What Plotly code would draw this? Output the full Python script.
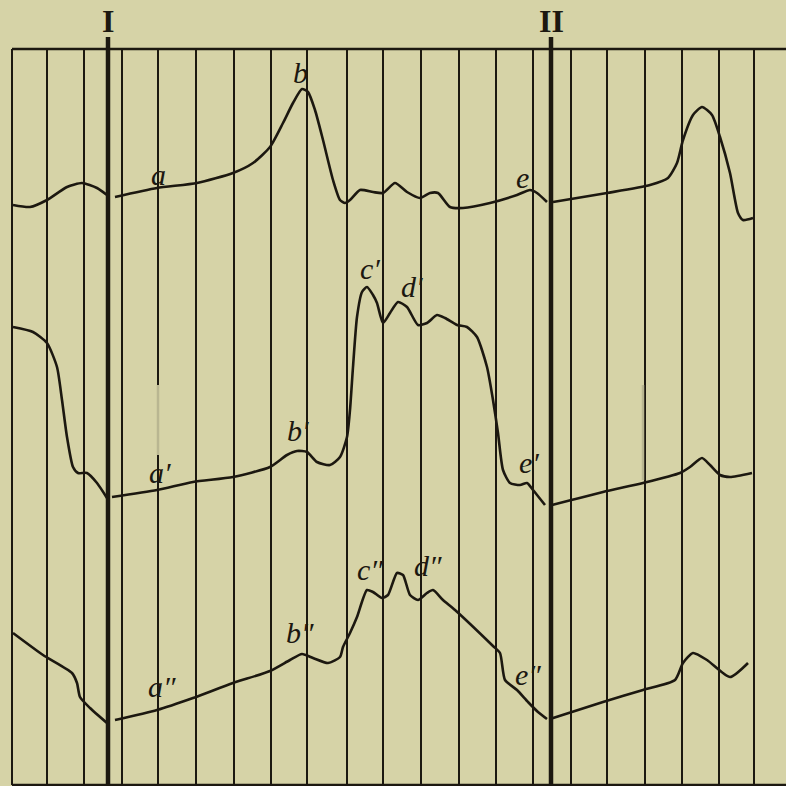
import plotly.graph_objects as go

# ---- data (pixel-like units) ----
grid_x = [12, 47, 84, 122, 158, 196, 234, 271, 307, 347, 383, 421, 459, 496, 533, 571, 607, 645, 682, 719, 754]
marker_x = [108, 551]
marker_labels = ["I", "II"]

top1_x = [13, 30, 47, 67, 82, 97, 107]
top1_y = [205, 207, 200, 187, 183, 188, 195]
top2_x = [115, 157, 197, 233, 253, 270, 283, 293, 302, 308, 315, 323, 333, 340, 345, 350, 360, 373, 383, 395, 407, 420, 430, 438, 450, 463, 490, 517, 530, 537, 547]
top2_y = [197, 188, 183, 173, 163, 147, 123, 103, 89, 92, 110, 140, 180, 200, 203, 200, 190, 192, 193, 183, 192, 198, 193, 193, 207, 208, 203, 195, 190, 193, 202]
top3_x = [553, 607, 650, 668, 677, 683, 693, 702, 712, 720, 730, 738, 743, 753]
top3_y = [202, 193, 185, 178, 163, 140, 115, 107, 115, 137, 173, 213, 220, 218]

mid1_x = [13, 33, 47, 57, 62, 67, 73, 78, 87, 97, 107]
mid1_y = [327, 332, 343, 367, 400, 437, 467, 473, 473, 483, 498]
mid2_x = [112, 157, 193, 233, 270, 287, 297, 307, 317, 330, 340, 347, 350, 353, 357, 362, 367, 373, 377, 383, 390, 398, 407, 418, 427, 437, 445, 457, 467, 477, 487, 493, 498, 503, 510, 520, 527, 533, 545]
mid2_y = [497, 490, 482, 477, 467, 455, 451, 452, 462, 465, 457, 437, 410, 367, 317, 292, 287, 295, 303, 323, 313, 302, 307, 325, 323, 315, 318, 325, 327, 337, 367, 400, 433, 470, 483, 485, 483, 490, 505]
mid3_x = [552, 603, 643, 680, 690, 702, 710, 720, 730, 752]
mid3_y = [505, 492, 483, 473, 467, 458, 465, 475, 477, 473]

bot1_x = [13, 43, 72, 77, 80, 90, 107]
bot1_y = [633, 655, 673, 683, 697, 708, 723]
bot2_x = [115, 157, 193, 233, 270, 290, 302, 313, 328, 340, 343, 350, 357, 367, 373, 382, 388, 397, 403, 410, 418, 427, 433, 443, 455, 493, 500, 505, 517, 528, 538, 547]
bot2_y = [720, 710, 698, 683, 671, 660, 654, 658, 663, 657, 647, 633, 617, 590, 592, 598, 595, 573, 575, 595, 600, 593, 590, 600, 610, 646, 653, 680, 690, 702, 712, 719]
bot3_x = [550, 603, 643, 675, 683, 693, 707, 730, 748]
bot3_y = [719, 702, 690, 680, 663, 653, 660, 677, 663]

label_text = ["a", "b", "e", "c′", "d′", "b′", "a′", "e′", "a″", "b″", "c″", "d″", "e″"]
label_x = [158, 300, 522, 370, 412, 298, 160, 529, 162, 300, 370, 428, 528]
label_y = [174, 72, 177, 268, 286, 430, 472, 462, 686, 632, 569, 565, 674]

BG = "#d6d3a7"
INK = "#1c1810"

fig = go.Figure()

segments = [(top1_x, top1_y), (top2_x, top2_y), (top3_x, top3_y),
            (mid1_x, mid1_y), (mid2_x, mid2_y), (mid3_x, mid3_y),
            (bot1_x, bot1_y), (bot2_x, bot2_y), (bot3_x, bot3_y)]
for sx, sy in segments:
    fig.add_trace(go.Scatter(x=sx, y=sy, mode="lines",
                             line=dict(color=INK, width=2.6, shape="spline", smoothing=0.6),
                             hoverinfo="skip", showlegend=False))

shapes = []
# thin vertical time lines
for gx in grid_x:
    shapes.append(dict(type="line", xref="x", yref="y", x0=gx, x1=gx, y0=49, y1=785,
                       line=dict(color=INK, width=2), layer="below"))
# frame top and bottom
shapes.append(dict(type="line", xref="x", yref="y", x0=12, x1=786, y0=49, y1=49,
                   line=dict(color=INK, width=2.5), layer="below"))
shapes.append(dict(type="line", xref="x", yref="y", x0=12, x1=786, y0=785, y1=785,
                   line=dict(color=INK, width=2.5), layer="below"))
# thick marker lines
for mx in marker_x:
    shapes.append(dict(type="line", xref="x", yref="y", x0=mx, x1=mx, y0=37, y1=786,
                       line=dict(color=INK, width=4.5), layer="below"))
# faint smudges
for fx, fy0, fy1 in [(158, 385, 455), (643, 385, 480)]:
    shapes.append(dict(type="line", xref="x", yref="y", x0=fx, x1=fx, y0=fy0, y1=fy1,
                       line=dict(color="#b9b691", width=2.5), layer="below"))

annotations = []
for t, lx, ly in zip(label_text, label_x, label_y):
    annotations.append(dict(x=lx, y=ly, xref="x", yref="y", text=t, showarrow=False,
                            font=dict(family="Liberation Serif, DejaVu Serif, serif", size=30,
                                      color=INK, style="italic")))
for t, mx in zip(marker_labels, marker_x):
    annotations.append(dict(x=mx, y=21, xref="x", yref="y", text="<b>" + t + "</b>", showarrow=False,
                            font=dict(family="Liberation Serif, DejaVu Serif, serif", size=32, color=INK)))

fig.update_layout(
    width=786, height=786,
    margin=dict(l=0, r=0, t=0, b=0),
    paper_bgcolor=BG, plot_bgcolor=BG,
    xaxis=dict(range=[0, 786], visible=False, fixedrange=True),
    yaxis=dict(range=[786, 0], visible=False, fixedrange=True),
    shapes=shapes, annotations=annotations,
    showlegend=False,
)

fig.write_html("out.html", config={"displayModeBar": False},
               post_script="document.body.style.margin='0';document.body.style.background='" + BG + "';")
